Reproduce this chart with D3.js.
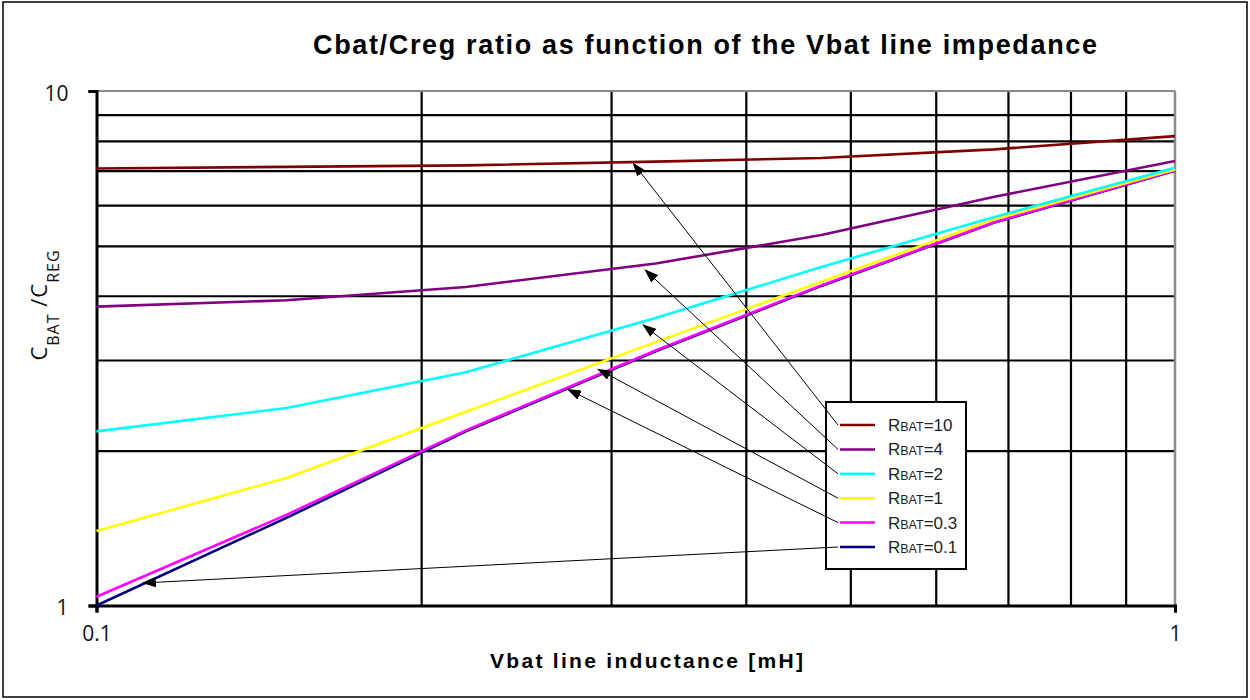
<!DOCTYPE html>
<html>
<head>
<meta charset="utf-8">
<script src="https://cdn.jsdelivr.net/npm/d3@7"></script>
<style>
  body { margin: 0; background: #fff; }
  svg { display: block; }
</style>
</head>
<body>
<svg class="chart"></svg>
<script>
// inductance points (mH), same for every curve
let inductance = [0.1, 0.15, 0.22, 0.33, 0.47, 0.68, 1.0];

let seriesNames = ['RBAT=10', 'RBAT=4', 'RBAT=2', 'RBAT=1', 'RBAT=0.3', 'RBAT=0.1'];
let seriesColors = ['#800000', '#800080', '#00FFFF', '#FFFF00', '#FF00FF', '#000080'];

let rbat10  = [7.07, 7.12, 7.17, 7.29, 7.41, 7.70, 8.17];
let rbat4   = [3.81, 3.92, 4.16, 4.62, 5.25, 6.23, 7.31];
let rbat2   = [2.18, 2.42, 2.84, 3.62, 4.55, 5.69, 7.09];
let rbat1   = [1.395, 1.77, 2.38, 3.25, 4.26, 5.63, 7.04];
let rbat03  = [1.04, 1.50, 2.19, 3.13, 4.19, 5.56, 7.01];
let rbat01  = [1.00, 1.48, 2.18, 3.12, 4.18, 5.55, 7.00];

// where each legend arrow points to, in data units [mH, ratio]
let arrowTips = [[0.3145, 7.24], [0.3226, 4.49], [0.3212, 3.51], [0.2917, 2.88], [0.2736, 2.63], [0.1104, 1.106]];

let xTicks = [0.1, 1];
let yTicks = [1, 10];
let xGrid = [0.2, 0.3, 0.4, 0.5, 0.6, 0.7, 0.8, 0.9];
let yGrid = [2, 3, 4, 5, 6, 7, 8, 9];

let allSeries = [rbat10, rbat4, rbat2, rbat1, rbat03, rbat01];

let svg_width = 1250;
let svg_height = 700;

let plot_left = 96.5, plot_right = 1175, plot_top = 91, plot_bottom = 605.5;

let svg = d3.select('.chart')
  .attr('width', svg_width)
  .attr('height', svg_height);

// outer frame
svg.append('rect')
  .attr('x', 3).attr('y', 2)
  .attr('width', 1244).attr('height', 695)
  .attr('fill', 'none')
  .attr('stroke', '#000')
  .attr('stroke-width', 1.5);

let scaleX = d3.scaleLog().domain([0.1, 1]).range([plot_left, plot_right]);
let scaleY = d3.scaleLog().domain([1, 10]).range([plot_bottom, plot_top]);

// grid
svg.append('g')
  .attr('transform', translate(0, plot_bottom))
  .call(d3.axisBottom(scaleX).tickValues(xGrid).tickSize(-(plot_bottom - plot_top)).tickFormat(''))
  .call(g => g.select('.domain').remove())
  .selectAll('.tick line')
  .attr('stroke', '#000')
  .attr('stroke-width', 2.2);

svg.append('g')
  .attr('transform', translate(plot_left, 0))
  .call(d3.axisLeft(scaleY).tickValues(yGrid).tickSize(-(plot_right - plot_left)).tickFormat(''))
  .call(g => g.select('.domain').remove())
  .selectAll('.tick line')
  .attr('stroke', '#000')
  .attr('stroke-width', 2.2);

// grey plot border top/right
svg.append('line')
  .attr('x1', plot_left).attr('x2', plot_right)
  .attr('y1', scaleY(10)).attr('y2', scaleY(10))
  .attr('stroke', '#8a8a8a').attr('stroke-width', 2);
svg.append('line')
  .attr('x1', scaleX(1)).attr('x2', scaleX(1))
  .attr('y1', plot_top).attr('y2', plot_bottom)
  .attr('stroke', '#8a8a8a').attr('stroke-width', 2.5);

// axes
let axisX = d3.axisBottom(scaleX).tickValues(xTicks).tickSize(7).tickPadding(14).tickFormat(d3.format('~g'));
let axisY = d3.axisLeft(scaleY).tickValues(yTicks).tickSize(8).tickPadding(20).tickFormat(d3.format('~g'));

svg.append('g')
  .attr('class', 'x-axis')
  .attr('transform', translate(0, plot_bottom))
  .call(axisX)
  .call(styleAxis);

svg.append('g')
  .attr('class', 'y-axis')
  .attr('transform', translate(plot_left, 0))
  .call(axisY)
  .call(styleAxis);

svg.select('.y-axis').selectAll('.tick text').attr('dy', '0.45em');

function styleAxis(g) {
  g.select('.domain')
    .attr('stroke', '#000')
    .attr('stroke-width', 3);
  g.selectAll('.tick line')
    .attr('stroke', '#000')
    .attr('stroke-width', 3);
  g.selectAll('.tick text')
    .attr('fill', '#111')
    .style('font-family', '"Open Sans", sans-serif')
    .style('font-size', '21px');
}

// curves (drawn bottom-up so the upper ones sit on top like the original)
let line = d3.line()
  .x((d, i) => scaleX(inductance[i]))
  .y(d => scaleY(d));

let order = [5, 4, 3, 2, 1, 0];
svg.append('g')
  .selectAll('path')
  .data(order)
  .enter()
  .append('path')
  .attr('d', k => line(allSeries[k]))
  .attr('fill', 'none')
  .attr('stroke', k => seriesColors[k])
  .attr('stroke-width', 2.6)
  .attr('stroke-linejoin', 'round');

// legend
let legX = 826, legY = 402, legW = 140, legH = 167;
let legend = svg.append('g');
legend.append('rect')
  .attr('x', legX).attr('y', legY)
  .attr('width', legW).attr('height', legH)
  .attr('fill', '#fff')
  .attr('stroke', '#000')
  .attr('stroke-width', 2);

let rowY = i => 425 + i * 24.4;

// arrows from legend to curves
svg.append('defs').append('marker')
  .attr('id', 'head')
  .attr('viewBox', '0 0 14 10')
  .attr('refX', 13).attr('refY', 5)
  .attr('markerWidth', 14).attr('markerHeight', 10)
  .attr('markerUnits', 'userSpaceOnUse')
  .attr('orient', 'auto')
  .append('path')
  .attr('d', 'M0,0 L14,5 L0,10 Z')
  .attr('fill', '#000');

svg.append('g')
  .selectAll('line')
  .data(arrowTips)
  .enter()
  .append('line')
  .attr('x1', 838)
  .attr('y1', (d, i) => rowY(i))
  .attr('x2', d => scaleX(d[0]))
  .attr('y2', d => scaleY(d[1]))
  .attr('stroke', '#000')
  .attr('stroke-width', 1)
  .attr('marker-end', 'url(#head)');

let rows = legend.selectAll('.row')
  .data(seriesNames)
  .enter()
  .append('g')
  .attr('class', 'row');

rows.append('line')
  .attr('x1', 840).attr('x2', 875)
  .attr('y1', (d, i) => rowY(i)).attr('y2', (d, i) => rowY(i))
  .attr('stroke', (d, i) => seriesColors[i])
  .attr('stroke-width', 2.5);

let labels = rows.append('text')
  .attr('x', 888)
  .attr('y', (d, i) => rowY(i) + 6)
  .attr('fill', '#222')
  .style('font-family', '"Liberation Sans", Arial, sans-serif');
labels.append('tspan').style('font-size', '17px').text('R');
labels.append('tspan').style('font-size', '12.5px').text('BAT');
labels.append('tspan').style('font-size', '17px').text(d => d.slice(4));

// title
svg.append('text')
  .attr('x', 313).attr('y', 54)
  .attr('textLength', 784)
  .attr('lengthAdjust', 'spacing')
  .style('font-family', '"Liberation Sans", Arial, sans-serif')
  .style('font-weight', 'bold')
  .style('font-size', '27px')
  .text('Cbat/Creg ratio as function of the Vbat line impedance');

// x label
svg.append('text')
  .attr('x', 490).attr('y', 668)
  .attr('textLength', 313)
  .attr('lengthAdjust', 'spacing')
  .style('font-family', '"Liberation Sans", Arial, sans-serif')
  .style('font-weight', 'bold')
  .style('font-size', '21px')
  .text('Vbat line inductance  [mH]');

// y label with subscripts
let yl = svg.append('text')
  .attr('transform', 'translate(47,305) rotate(-90)')
  .attr('text-anchor', 'middle')
  .attr('fill', '#111')
  .style('font-family', '"Open Sans", sans-serif')
  .style('letter-spacing', '1px');
yl.append('tspan').style('font-size', '22px').text('C');
yl.append('tspan').style('font-size', '16px').attr('dy', 12).text('BAT');
yl.append('tspan').style('font-size', '22px').attr('dy', -12).text(' /C');
yl.append('tspan').style('font-size', '16px').attr('dy', 12).text('REG');

function translate(x, y) {
  return 'translate(' + x + ',' + y + ')';
}
</script>
</body>
</html>
